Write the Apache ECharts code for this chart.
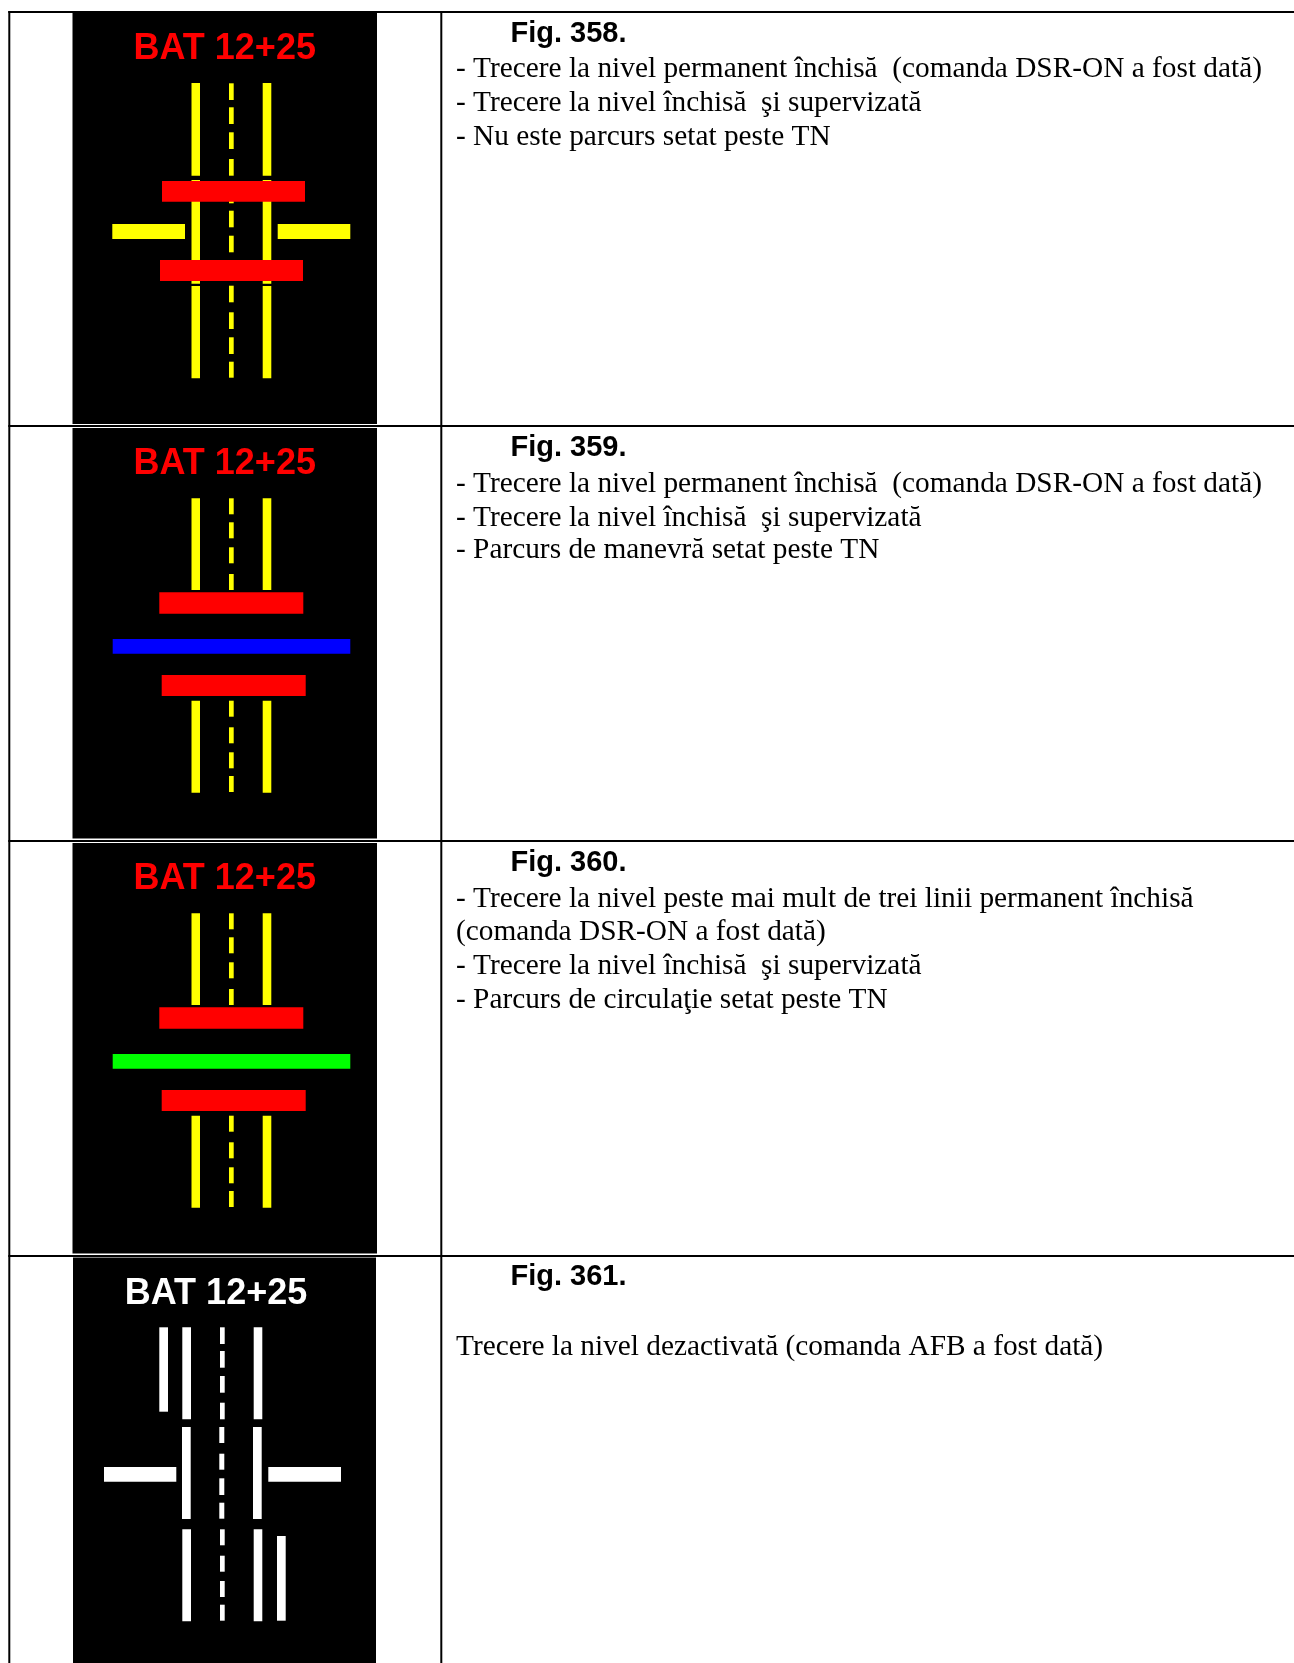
<!DOCTYPE html>
<html>
<head>
<meta charset="utf-8">
<title>Fig. 358-361</title>
<style>
html,body{margin:0;padding:0;background:#fff;}
#main{width:1294px;height:1663px;}
</style>
<script src="https://cdn.jsdelivr.net/npm/echarts@6/dist/echarts.min.js"></script>
</head>
<body>
<div id="main"></div>
<script>
// every bar is [x0, y0, x1, y1]
var tableRules = [
	[8.3,11,1294,13],[8.3,425,1294,427],[8.3,840,1294,842],[8.3,1255,1294,1257],
	[8.3,11,10.3,1663],[440.3,11,442.3,1663]
];
var blackPanels = [
	[72.5,12.5,377,424],[72.5,428,377,838.5],[72.5,843,377,1253.5],[73,1257.5,376,1663]
];
var yellowBars358 = [
	[191.5,83,200,175.7],[191.5,180,200,283.7],[191.5,286,200,378.3],
	[262.7,83,271.3,175.7],[262.7,180,271.3,283.7],[262.7,286,271.3,378.3],
	[229,83.3,233.7,100],[229,107.3,233.7,124],[229,132.3,233.7,149],[229,159,233.7,175.7],
	[229,190,233.7,203.3],[229,210.7,233.7,227.3],[229,235.7,233.7,252.3],
	[229,285.7,233.7,302.3],[229,312.3,233.7,329],[229,337.3,233.7,354],[229,361.7,233.7,377.7],
	[112.3,224,185,239],[277.7,224,350.3,239]
];
var yellowBars359 = [
	[191.5,498.3,200,590],[262.7,498.3,271.3,590],
	[191.5,700.7,200,792.7],[262.7,700.7,271.3,792.7],
	[229,498.3,233.7,514.3],[229,522.3,233.7,538.3],[229,547.3,233.7,563.3],[229,574,233.7,590],
	[229,700.7,233.7,716.7],[229,727.3,233.7,743.3],[229,752.3,233.7,768.3],[229,776,233.7,792]
];
var yellowBars360 = [
	[191.5,913.3,200,1005],[262.7,913.3,271.3,1005],
	[191.5,1115.7,200,1207.7],[262.7,1115.7,271.3,1207.7],
	[229,913.3,233.7,929.3],[229,937.3,233.7,953.3],[229,962.3,233.7,978.3],[229,989,233.7,1005],
	[229,1115.7,233.7,1131.7],[229,1142.3,233.7,1158.3],[229,1167.3,233.7,1183.3],[229,1191,233.7,1207]
];
var redBars = [
	[162,181,305,201.7],[160,260,303,281],
	[159.3,592.3,303.3,613.7],[161.7,675,305.7,696],
	[159.3,1007.3,303.3,1028.7],[161.7,1090,305.7,1111]
];
var blueBars = [[112.7,639,350.3,653.7]];
var greenBars = [[112.7,1054,350.3,1068.7]];
var whiteBars361 = [
	[159.3,1327.3,168,1411.7],[182.3,1327.3,191,1419.3],[253.7,1327.3,262.3,1419.3],
	[220,1327.3,224.7,1344],[220,1351,224.7,1367.7],[220,1376,224.7,1392.7],[220,1402.7,224.7,1419.3],
	[182,1427,190.7,1519],[253,1427,261.7,1519],
	[219.3,1427,224.3,1443],[219.3,1453.7,224.3,1469.7],[219.3,1478.3,224.3,1495],[219.3,1502.7,224.3,1518.7],
	[104,1467,176.3,1481.7],[268.3,1467,341,1481.7],
	[182.3,1529.3,191,1621.3],[253.7,1529.3,262.3,1621.3],[277,1536,285.7,1620.7],
	[220,1529.3,224.7,1545.3],[220,1555.7,224.7,1571.7],[220,1581,224.7,1597],[220,1604.7,224.7,1620.7]
];
// text rows are [x, middle y, string]
var redLabels = [[133.5,49.5,'BAT 12+25'],[133.5,464.5,'BAT 12+25'],[133.5,879.5,'BAT 12+25']];
var whiteLabels = [[124.8,1294,'BAT 12+25']];
var figureTitles = [
	[510.5,34,'Fig. 358.'],[510.5,448,'Fig. 359.'],[510.5,862.5,'Fig. 360.'],[510.5,1277,'Fig. 361.']
];
var captionLines = [
	[456,69,'- Trecere la nivel permanent închisă  (comanda DSR-ON a fost dată)'],
	[456,103,'- Trecere la nivel închisă  şi supervizată'],
	[456,137,'- Nu este parcurs setat peste TN'],
	[456,484,'- Trecere la nivel permanent închisă  (comanda DSR-ON a fost dată)'],
	[456,518,'- Trecere la nivel închisă  şi supervizată'],
	[456,550,'- Parcurs de manevră setat peste TN'],
	[456,899,'- Trecere la nivel peste mai mult de trei linii permanent închisă'],
	[456,932,'(comanda DSR-ON a fost dată)'],
	[456,966,'- Trecere la nivel închisă  şi supervizată'],
	[456,1000,'- Parcurs de circulaţie setat peste TN'],
	[456,1347,'Trecere la nivel dezactivată (comanda AFB a fost dată)']
];

function renderBar(color){
	return function(params,api){
		var p0 = api.coord([api.value(0),api.value(1)]);
		var p1 = api.coord([api.value(2),api.value(3)]);
		return {
			type:'rect',
			shape:{x:p0[0],y:p0[1],width:p1[0]-p0[0],height:p1[1]-p0[1]},
			style:{fill:color}
		};
	};
}

function barSeries(data,color){
	return {type:'custom',data:data,renderItem:renderBar(color),silent:true,clip:false,
		encode:{x:[0,2],y:[1,3]}};
}

function textSeries(data,font,color){
	return {
		type:'custom',data:data,silent:true,clip:false,
		encode:{x:0,y:1},
		renderItem:function(params,api){
			var p = api.coord([api.value(0),api.value(1)]);
			return {
				type:'text',x:p[0],y:p[1],
				style:{text:data[params.dataIndex][2],font:font,fill:color,align:'left',verticalAlign:'middle'}
			};
		}
	};
}

var myChart = echarts.init(document.getElementById('main'));
var serif = '29.33px "Liberation Serif"';
var sans = 'bold 36px "Liberation Sans"';
myChart.setOption({
	animation:false,
	backgroundColor:'#fff',
	grid:{left:0,right:0,top:0,bottom:0},
	xAxis:{type:'value',min:0,max:1294,show:false},
	yAxis:{type:'value',min:0,max:1663,inverse:true,show:false},
	series:[
		barSeries(blackPanels,'#000'),
		barSeries(tableRules,'#000'),
		barSeries(yellowBars358,'#ffff00'),
		barSeries(yellowBars359,'#ffff00'),
		barSeries(yellowBars360,'#ffff00'),
		barSeries(redBars,'#ff0000'),
		barSeries(blueBars,'#0000ff'),
		barSeries(greenBars,'#00ff00'),
		barSeries(whiteBars361,'#fff'),
		textSeries(redLabels,sans,'#ff0000'),
		textSeries(whiteLabels,sans,'#fff'),
		textSeries(figureTitles,'bold 29px "Liberation Sans"','#000'),
		textSeries(captionLines,serif,'#000')
	]
});
</script>
</body>
</html>
